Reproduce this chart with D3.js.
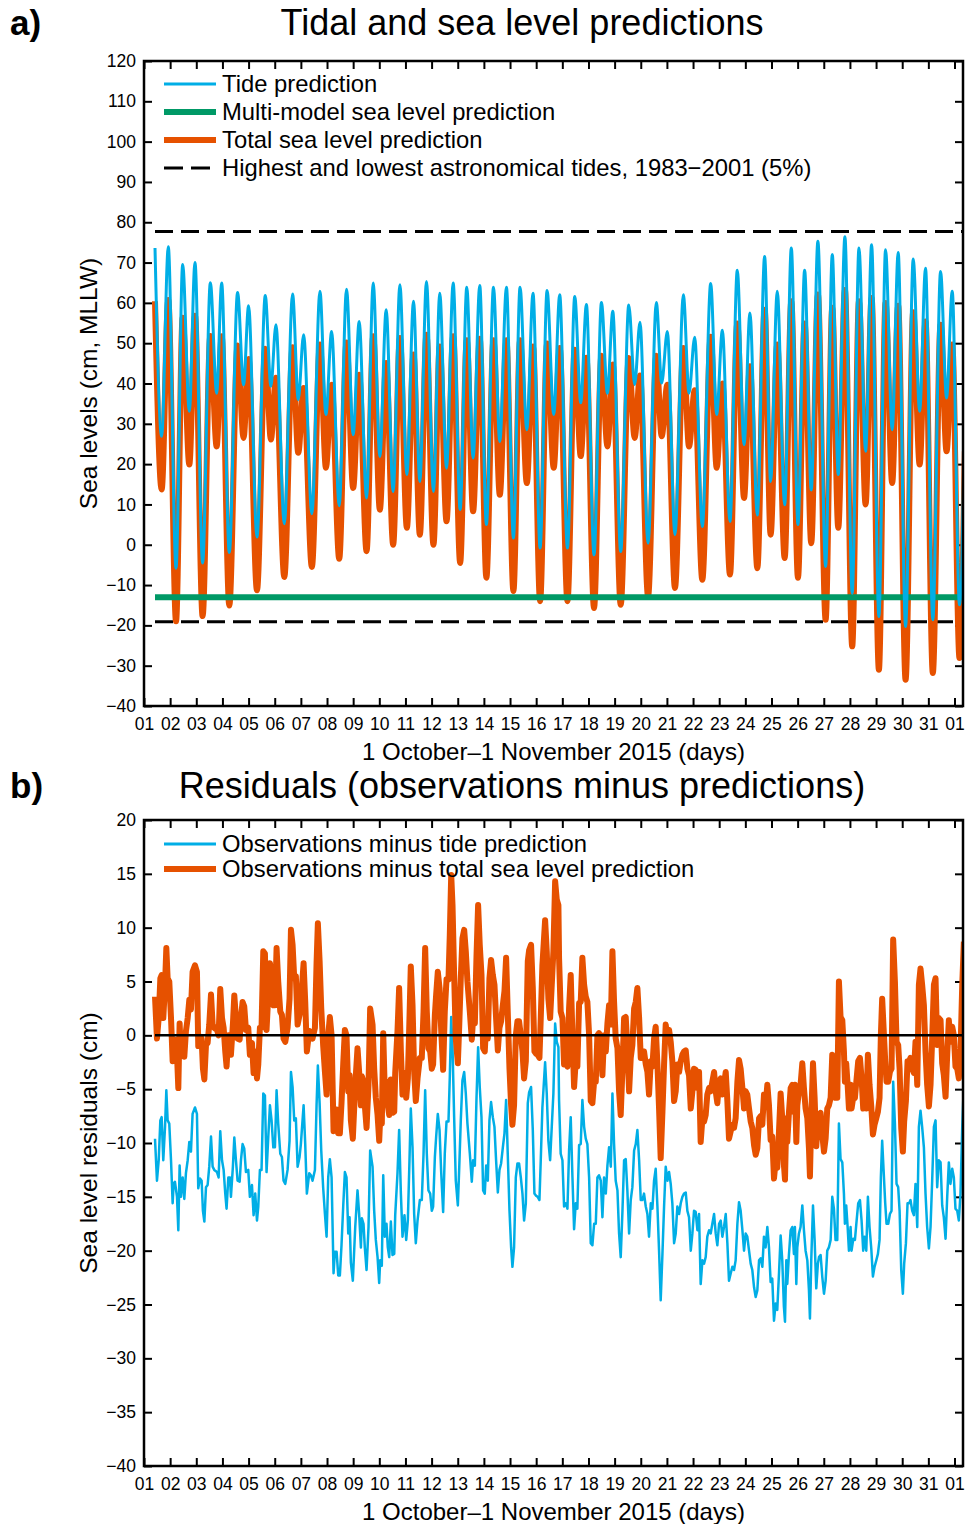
<!DOCTYPE html>
<html>
<head>
<meta charset="utf-8">
<title>Tidal and sea level predictions</title>
<script src="https://cdn.jsdelivr.net/npm/d3@7"></script>
<style>
  body { margin: 0; background: #fff; }
  svg { display: block; }
</style>
</head>
<body>
<svg id="chart" width="965" height="1524"></svg>
<script>
'use strict';

// hours since 1 October 2015 00:00, tidal turning points
var tideHours = [
  10.1, 16.2, 22.3, 29.4, 35.5, 41.6, 46.8, 53.8, 60.9, 66.7, 71.3, 78.3, 85.9, 91.4, 96.0,
  103.7, 111.3, 116.5, 121.1, 128.8, 136.4, 141.6, 146.5, 154.1, 161.5, 167.0, 172.2, 179.2, 185.9, 192.0,
  197.5, 204.3, 210.4, 216.5, 222.3, 228.7, 234.9, 241.3, 247.4, 253.2, 259.3, 265.7, 271.5, 277.7, 283.8,
  290.2, 296.3, 302.1, 308.2, 314.3, 320.8, 326.6, 332.7, 339.1, 345.2, 351.4, 357.1, 363.6, 370.0, 376.1, 381.6,
  388.7, 395.4, 400.9, 406.1, 413.1, 419.9, 425.4, 430.3, 437.6, 445.0, 450.4, 455.3, 462.7, 470.3, 475.2,
  480.4, 487.4, 495.1, 500.3, 505.5, 512.5, 520.2, 525.7, 530.9, 537.9, 544.6, 550.8, 556.2, 563.0, 569.7,
  575.2, 581.3, 588.1, 594.2, 600.3, 606.4, 612.5, 618.6, 625.7, 631.8, 637.3, 643.4, 650.1, 656.3, 662.4,
  667.9, 674.6, 680.7, 686.8, 692.3, 699.1, 706.1, 712.0, 717.4, 724.1, 731.2, 736.7, 741.9, 748.6, 753.5
];

// cm above MLLW
var tidePrediction = [
  73.6, 26.9, 73.9, -5.8, 69.5, 33.1, 70.0, -4.5, 65.0, 37.6, 64.9, -1.9, 62.6, 39.7, 59.3,
  1.9, 61.8, 39.3, 54.6, 5.2, 62.2, 36.0, 52.1, 7.7, 62.9, 32.3, 52.9, 9.7, 63.4, 27.3,
  55.4, 11.6, 64.9, 21.9, 58.3, 13.2, 64.5, 17.4, 60.4, 15.7, 65.3, 13.2, 62.4, 19.0, 64.9,
  8.7, 63.9, 21.5, 64.3, 5.0, 63.9, 25.6, 63.9, 1.7, 63.9, 28.5, 62.4, -0.8, 63.1, 32.3, 62.0,
  -0.8, 61.6, 35.2, 59.6, -2.5, 60.1, 37.6, 57.9, -1.7, 59.5, 39.7, 55.2, 0.4, 60.1, 40.1,
  52.9, 2.5, 62.0, 37.6, 51.5, 4.5, 64.8, 32.3, 53.2, 5.8, 68.1, 24.8, 57.5, 7.4, 71.5,
  15.7, 62.9, 9.9, 73.6, 5.0, 68.1, 13.6, 75.3, -5.4, 72.0, 17.4, 76.4, -12.0, 73.6, 23.2,
  74.4, -17.8, 73.2, 28.5, 72.5, -20.3, 70.9, 33.1, 68.6, -18.6, 67.8, 36.4, 62.9, -14.9, 36.4
];

var totalPrediction = [
  60.4, 13.7, 60.7, -19.0, 56.3, 19.9, 56.8, -17.7, 51.8, 24.4, 51.7, -15.1, 49.4, 26.5, 46.1,
  -11.3, 48.6, 26.1, 41.4, -8.0, 49.0, 22.8, 38.9, -5.5, 49.7, 19.1, 39.7, -3.5, 50.2, 14.1,
  42.2, -1.6, 51.7, 8.7, 45.1, 0.0, 51.3, 4.2, 47.2, 2.5, 52.1, 0.0, 49.2, 5.8, 51.7,
  -4.5, 50.7, 8.3, 51.1, -8.2, 50.7, 12.4, 50.7, -11.5, 50.7, 15.3, 49.2, -14.0, 49.9, 19.1, 48.8,
  -14.0, 48.4, 22.0, 46.4, -15.7, 46.9, 24.4, 44.7, -14.9, 46.3, 26.5, 42.0, -12.8, 46.9, 26.9,
  39.7, -10.7, 48.8, 24.4, 38.3, -8.7, 51.6, 19.1, 40.0, -7.4, 54.9, 11.6, 44.3, -5.8, 58.3,
  2.5, 49.7, -3.3, 60.4, -8.2, 54.9, 0.4, 62.1, -18.6, 58.8, 4.2, 63.2, -25.2, 60.4, 10.0,
  61.2, -31.0, 60.0, 15.3, 59.3, -33.5, 57.7, 19.9, 55.4, -31.8, 54.6, 23.2, 49.7, -28.1, 23.2
];

var multiModelLevel = -13.0;
var astronomicalTideLimits = [77.7, -19.1];

// hours since 1 October 2015 00:00, panel b
var residualHours = [
  10.1, 11.9, 13.5, 15.0, 16.2, 17.7, 19.3, 20.5, 21.7, 23.2,
  24.8, 26.3, 27.2, 28.4, 30.3, 31.5, 32.7, 33.9, 35.5, 37.0,
  38.5, 40.1, 41.6, 43.1, 44.6, 46.8, 48.6, 49.8, 51.4, 52.9,
  54.1, 55.4, 56.9, 58.4, 59.9, 61.5, 63.0, 64.5, 67.0, 68.5,
  70.0, 71.6, 73.1, 74.6, 75.8, 77.4, 78.9, 79.8, 81.6, 82.9,
  84.4, 85.9, 87.8, 89.0, 90.5, 92.0, 93.6, 95.7, 97.2, 99.1,
  100.6, 102.1, 103.7, 104.9, 106.4, 107.9, 109.5, 111.0, 112.5, 114.1,
  115.6, 117.1, 118.7, 120.2, 121.7, 123.2, 125.1, 126.6, 128.1, 129.7,
  131.8, 133.6, 134.9, 136.4, 137.9, 139.4, 141.0, 142.8, 144.0, 146.5,
  148.0, 149.5, 151.7, 153.2, 154.7, 156.9, 158.4, 159.6, 161.2, 162.7,
  164.5, 166.1, 167.6, 169.1, 170.6, 172.2, 174.0, 175.2, 176.8, 178.3,
  179.8, 181.3, 182.9, 184.4, 185.9, 187.5, 188.7, 189.9, 191.7,
  193.9, 196.0, 197.5, 199.1, 200.0, 201.5, 202.7, 204.3, 206.1, 207.6,
  209.8, 211.3, 212.8, 214.4, 215.9, 216.8, 218.3, 219.6, 221.1, 222.6,
  223.8, 225.1, 226.6, 228.1, 229.7, 230.6, 232.7, 234.2, 235.8, 237.3,
  239.1, 240.7, 242.2, 243.7, 244.9, 246.5, 248.0, 249.5, 251.1, 253.2,
  255.0, 256.6, 258.1, 259.6, 261.1, 262.7, 264.2, 265.4, 267.0, 268.2,
  269.7, 271.3, 272.8, 274.6, 276.1, 277.7, 279.5, 280.7, 282.0, 283.2,
  284.7, 286.2, 288.1, 289.3, 290.8, 292.3, 293.9, 295.4, 296.9, 299.1,
  300.9, 302.1, 303.7, 305.2, 306.7, 308.2, 309.8, 311.3, 312.8, 314.1,
  315.6, 317.1, 318.6, 320.2, 321.7, 323.2, 324.8, 326.3, 327.8, 329.4,
  330.9, 332.4, 333.9, 335.5, 337.0, 338.2, 339.7, 341.3, 342.8, 344.3,
  345.9, 347.4, 348.9, 350.5, 352.3, 353.5, 355.3, 356.9, 358.4, 359.9,
  361.4, 363.0, 364.2, 365.7, 368.2, 369.7, 371.2, 372.8, 374.3, 375.8,
  377.4, 378.9, 380.4,
  381.0, 382.5, 384.1, 385.6, 387.1, 388.7, 390.2, 391.7, 393.3, 394.8,
  396.3, 397.8, 399.4, 400.9, 402.4, 404.0, 405.5, 407.0, 408.6, 410.1,
  411.6, 413.2, 414.7, 416.2, 417.7, 419.3, 420.8, 422.3, 423.9, 425.4,
  426.9, 428.5, 430.0, 431.5, 433.0, 434.6, 436.1, 437.6, 439.2, 440.7,
  442.2, 443.7, 445.3, 446.8, 448.3, 449.9, 451.4, 452.9, 454.5, 456.0,
  457.5, 459.0, 460.6, 462.1, 463.6, 465.2, 466.7, 468.2, 469.7, 471.3,
  472.8, 474.3, 475.9, 477.4, 478.9, 480.5, 482.0, 483.5, 485.0, 486.6,
  488.1, 489.6, 491.2, 492.7, 494.2, 495.7, 497.3, 498.8, 500.3, 501.9,
  503.4, 504.9, 506.4, 508.0, 509.5, 511.0, 512.6, 514.1, 515.6, 517.1,
  518.7, 520.2, 521.7, 523.3, 524.8, 526.3, 527.9, 529.4, 530.9, 532.4,
  534.0, 535.5, 537.0, 538.6, 540.1, 541.6, 543.1, 544.7, 546.2, 547.7,
  549.3, 550.8, 552.3, 553.8, 555.4, 556.9, 558.4, 560.0, 561.5, 563.0,
  564.6, 566.1, 567.6, 569.1,
  570.6, 572.2, 573.7, 575.2, 576.7, 578.3, 579.8, 581.3, 582.9, 584.4,
  585.9, 587.4, 588.4, 589.6, 590.5, 592.0, 593.6, 595.1, 596.6, 597.5,
  598.8, 599.7, 601.2, 602.7, 604.3, 605.8, 607.3, 608.9, 610.4, 611.3,
  612.5, 614.1, 615.6, 617.1, 618.6, 619.6, 621.1, 622.6, 624.2, 625.7,
  627.2, 628.7, 630.3, 631.8, 633.3, 634.8, 636.4, 637.9, 639.4, 641.0,
  642.5, 643.4, 644.6, 645.9, 647.1, 648.6, 649.5, 651.1, 652.6, 653.8,
  655.6, 657.2, 658.7, 660.2, 661.4, 663.0, 664.5, 666.0, 667.6, 669.1,
  670.6, 672.2, 673.7, 675.2, 676.4, 677.6, 678.9, 680.4, 681.6, 683.2,
  684.7, 686.2, 687.7, 689.3, 690.8, 692.3, 693.6, 695.1, 696.6, 697.8,
  699.4, 700.9, 702.4, 703.6, 705.2, 706.7, 708.2, 709.8, 711.3, 712.8,
  714.3, 715.9, 717.4, 718.9, 720.5, 722.0, 723.5, 725.1, 726.6, 728.1,
  729.6, 731.2, 732.7, 734.2, 735.8, 737.3, 738.8, 740.3, 741.9, 743.4,
  744.9, 746.5, 748.0, 749.5, 751.1, 752.6
];

// observations minus tide prediction (cm)
var residualTide = [
  -9.6, -13.5, -11.6, -7.9, -7.6, -11.6, -8.5, -5.1, -7.9, -8.2,
  -11.6, -15.6, -13.8, -13.6, -15.0, -18.1, -12.1, -15.0, -13.2, -15.2,
  -12.8, -11.6, -9.9, -10.8, -7.3, -6.7, -7.3, -14.2, -13.3, -13.5,
  -16.3, -17.3, -14.1, -13.9, -12.2, -9.4, -12.2, -12.5, -12.7, -13.2,
  -8.9, -11.6, -12.5, -14.7, -16.1, -13.2, -13.2, -15.0, -12.2, -9.5,
  -11.6, -13.5, -13.6, -11.6, -10.1, -10.5, -12.7, -12.5, -15.0, -13.9,
  -16.7, -14.7, -17.2, -15.9, -12.5, -12.5, -5.4, -5.6, -12.7, -9.4,
  -6.5, -7.9, -10.4, -10.4, -5.1, -8.2, -11.0, -11.3, -13.5, -13.8,
  -12.5, -9.8, -3.4, -4.8, -7.9, -7.7, -12.2, -11.3, -10.1, -6.5,
  -10.1, -14.7, -12.8, -13.0, -13.5, -12.5, -6.5, -2.8, -6.3, -10.7,
  -14.2, -16.6, -18.7, -13.2, -11.5, -13.2, -22.1, -20.1, -20.1, -22.3,
  -22.3, -19.5, -15.8, -12.7, -13.2, -18.4, -16.9, -21.1, -22.8,
  -17.8, -14.4, -16.6, -19.7, -17.0, -17.5, -19.7, -21.8, -17.8, -10.7,
  -12.2, -16.3, -19.0, -20.6, -23.0, -20.9, -21.4, -13.0, -18.7, -17.5,
  -19.7, -20.6, -17.3, -20.4, -20.3, -16.7, -12.8, -8.8, -14.7, -18.7,
  -16.7, -19.0, -17.2, -11.6, -6.8, -10.4, -16.6, -19.3, -17.2, -15.3,
  -15.3, -11.0, -5.1, -11.0, -14.4, -14.7, -16.3, -15.9, -11.3, -9.4,
  -7.3, -8.8, -12.7, -16.4, -11.0, -8.0, -8.0, -3.9, 1.7, -1.1,
  -7.6, -13.5, -15.8, -12.5, -7.9, -4.2, -3.4, -5.4, -8.2, -11.0,
  -13.6, -11.6, -12.1, -5.9, -1.1, -4.8, -7.6, -14.4, -14.7, -12.1,
  -13.5, -7.9, -6.2, -7.6, -8.5, -11.6, -14.6, -12.5, -11.9, -10.4,
  -9.1, -6.0, -11.0, -16.3, -19.7, -21.5, -19.7, -13.2, -11.9, -11.9,
  -13.2, -14.7, -17.2, -15.6, -6.3, -5.3, -4.8, -8.8, -14.7, -14.9,
  -15.0, -15.3, -11.6, -6.7, -2.5, -5.4, -9.8, -11.6, -8.5, -5.4,
  1.1, -0.6, -1.1,
  -6.0, -11.0, -11.6, -15.9, -15.6, -16.1, -10.7, -7.6, -13.2, -18.0,
  -15.6, -16.1, -10.2, -10.1, -6.0, -8.5, -9.6, -10.1, -13.2, -19.3,
  -19.5, -17.5, -17.5, -13.2, -13.0, -13.5, -16.9, -13.2, -14.7, -12.1,
  -10.4, -12.2, -5.4, -10.1, -13.5, -14.4, -18.4, -20.6, -16.3, -11.6,
  -11.5, -14.4, -18.4, -15.3, -14.1, -10.7, -10.1, -8.8, -11.6, -15.3,
  -15.3, -14.7, -15.9, -16.6, -18.7, -15.6, -16.1, -13.5, -12.4, -15.9,
  -20.0, -24.6, -20.3, -15.9, -12.2, -13.5, -12.7, -13.8, -15.6, -19.3,
  -18.4, -15.9, -16.6, -15.6, -15.0, -14.7, -14.6, -16.3, -16.9, -20.0,
  -18.4, -16.3, -16.4, -18.1, -16.6, -23.1, -20.9, -21.2, -20.6, -18.7,
  -18.1, -18.4, -17.5, -16.6, -18.4, -19.5, -17.5, -17.2, -18.7, -17.8,
  -16.6, -19.3, -22.8, -22.1, -21.5, -21.8, -20.9, -17.5, -15.5, -16.3,
  -18.1, -20.0, -18.4, -18.7, -20.0, -21.2, -21.8, -23.4, -24.3, -23.7,
  -20.9, -20.7, -21.5, -18.7,
  -19.7, -17.8, -19.7, -22.9, -22.6, -26.5, -24.9, -25.5, -22.1, -18.6,
  -20.9, -25.2, -26.6, -20.9, -23.1, -20.4, -18.1, -17.8, -20.3, -17.8,
  -23.1, -19.7, -18.4, -17.8, -15.8, -18.1, -20.0, -20.9, -23.7, -26.3,
  -20.9, -15.8, -19.0, -23.5, -21.2, -20.6, -20.4, -22.4, -24.0, -22.8,
  -20.0, -19.7, -19.0, -15.0, -16.1, -19.0, -19.0, -8.2, -11.5, -11.8,
  -14.7, -17.5, -15.8, -17.8, -20.0, -17.8, -20.0, -18.9, -19.0, -17.6,
  -15.6, -15.3, -17.2, -20.0, -18.7, -20.0, -15.0, -17.8, -19.8, -22.4,
  -21.5, -20.9, -20.3, -19.0, -13.2, -9.8, -12.5, -15.6, -17.5, -17.5,
  -16.6, -16.3, -4.3, -8.2, -13.8, -14.1, -16.3, -21.8, -24.0, -21.2,
  -19.3, -15.6, -15.6, -15.3, -16.3, -16.7, -13.8, -17.8, -8.5, -7.0,
  -8.5, -10.4, -14.7, -17.8, -19.8, -17.8, -13.5, -8.5, -7.9, -14.1,
  -11.6, -11.8, -15.8, -16.9, -18.9, -15.0, -11.8, -13.8, -12.4, -13.2,
  -16.1, -16.3, -17.2, -14.7, -8.5, -4.5
];

// observations minus total sea level prediction (cm)
var residualTotal = [
  3.6, -0.3, 1.6, 5.3, 5.6, 1.6, 4.7, 8.1, 5.3, 5.0,
  1.6, -2.4, -0.6, -0.4, -1.8, -4.9, 1.1, -1.8, 0.0, -2.0,
  0.4, 1.6, 3.3, 2.4, 5.9, 6.5, 5.9, -1.0, -0.1, -0.3,
  -3.1, -4.1, -0.9, -0.7, 1.0, 3.8, 1.0, 0.7, 0.5, 0.0,
  4.3, 1.6, 0.7, -1.5, -2.9, 0.0, 0.0, -1.8, 1.0, 3.7,
  1.6, -0.3, -0.4, 1.6, 3.1, 2.7, 0.5, 0.7, -1.8, -0.7,
  -3.5, -1.5, -4.0, -2.7, 0.7, 0.7, 7.8, 7.6, 0.5, 3.8,
  6.7, 5.3, 2.8, 2.8, 8.1, 5.0, 2.2, 1.9, -0.3, -0.6,
  0.7, 3.4, 9.8, 8.4, 5.3, 5.5, 1.0, 1.9, 3.1, 6.7,
  3.1, -1.5, 0.4, 0.2, -0.3, 0.7, 6.7, 10.4, 6.9, 2.5,
  -1.0, -3.4, -5.5, 0.0, 1.7, 0.0, -8.9, -6.9, -6.9, -9.1,
  -9.1, -6.3, -2.6, 0.5, 0.0, -5.2, -3.7, -7.9, -9.6,
  -4.6, -1.2, -3.4, -6.5, -3.8, -4.3, -6.5, -8.6, -4.6, 2.5,
  1.0, -3.1, -5.8, -7.4, -9.8, -7.7, -8.2, 0.2, -5.5, -4.3,
  -6.5, -7.4, -4.1, -7.2, -7.1, -3.5, 0.4, 4.4, -1.5, -5.5,
  -3.5, -5.8, -4.0, 1.6, 6.4, 2.8, -3.4, -6.1, -4.0, -2.1,
  -2.1, 2.2, 8.1, 2.2, -1.2, -1.5, -3.1, -2.7, 1.9, 3.8,
  5.9, 4.4, 0.5, -3.2, 2.2, 5.2, 5.2, 9.3, 14.9, 12.1,
  5.6, -0.3, -2.6, 0.7, 5.3, 9.0, 9.8, 7.8, 5.0, 2.2,
  -0.4, 1.6, 1.1, 7.3, 12.1, 8.4, 5.6, -1.2, -1.5, 1.1,
  -0.3, 5.3, 7.0, 5.6, 4.7, 1.6, -1.4, 0.7, 1.3, 2.8,
  4.1, 7.2, 2.2, -3.1, -6.5, -8.3, -6.5, 0.0, 1.3, 1.3,
  0.0, -1.5, -4.0, -2.4, 6.9, 7.9, 8.4, 4.4, -1.5, -1.7,
  -1.8, -2.1, 1.6, 6.5, 10.7, 7.8, 3.4, 1.6, 4.7, 7.8,
  14.3, 12.6, 12.1,
  7.2, 2.2, 1.6, -2.7, -2.4, -2.9, 2.5, 5.6, 0.0, -4.8,
  -2.4, -2.9, 3.0, 3.1, 7.2, 4.7, 3.6, 3.1, 0.0, -6.1,
  -6.3, -4.3, -4.3, 0.0, 0.2, -0.3, -3.7, 0.0, -1.5, 1.1,
  2.8, 1.0, 7.8, 3.1, -0.3, -1.2, -5.2, -7.4, -3.1, 1.6,
  1.7, -1.2, -5.2, -2.1, -0.9, 2.5, 3.1, 4.4, 1.6, -2.1,
  -2.1, -1.5, -2.7, -3.4, -5.5, -2.4, -2.9, -0.3, 0.8, -2.7,
  -6.8, -11.4, -7.1, -2.7, 1.0, -0.3, 0.5, -0.6, -2.4, -6.1,
  -5.2, -2.7, -3.4, -2.4, -1.8, -1.5, -1.4, -3.1, -3.7, -6.8,
  -5.2, -3.1, -3.2, -4.9, -3.4, -9.9, -7.7, -8.0, -7.4, -5.5,
  -4.9, -5.2, -4.3, -3.4, -5.2, -6.3, -4.3, -4.0, -5.5, -4.6,
  -3.4, -6.1, -9.6, -8.9, -8.3, -8.6, -7.7, -4.3, -2.3, -3.1,
  -4.9, -6.8, -5.2, -5.5, -6.8, -8.0, -8.6, -10.2, -11.1, -10.5,
  -7.7, -7.5, -8.3, -5.5,
  -6.5, -4.6, -6.5, -9.7, -9.4, -13.3, -11.7, -12.3, -8.9, -5.4,
  -7.7, -12.0, -13.4, -7.7, -9.9, -7.2, -4.9, -4.6, -7.1, -4.6,
  -9.9, -6.5, -5.2, -4.6, -2.6, -4.9, -6.8, -7.7, -10.5, -13.1,
  -7.7, -2.6, -5.8, -10.3, -8.0, -7.4, -7.2, -9.2, -10.8, -9.6,
  -6.8, -6.5, -5.8, -1.8, -2.9, -5.8, -5.8, 5.0, 1.7, 1.4,
  -1.5, -4.3, -2.6, -4.6, -6.8, -4.6, -6.8, -5.7, -5.8, -4.4,
  -2.4, -2.1, -4.0, -6.8, -5.5, -6.8, -1.8, -4.6, -6.6, -9.2,
  -8.3, -7.7, -7.1, -5.8, 0.0, 3.4, 0.7, -2.4, -4.3, -4.3,
  -3.4, -3.1, 8.9, 5.0, -0.6, -0.9, -3.1, -8.6, -10.8, -8.0,
  -6.1, -2.4, -2.4, -2.1, -3.1, -3.5, -0.6, -4.6, 4.7, 6.2,
  4.7, 2.8, -1.5, -4.6, -6.6, -4.6, -0.3, 4.7, 5.3, -0.9,
  1.6, 1.4, -2.6, -3.7, -5.7, -1.8, 1.4, -0.6, 0.8, 0.0,
  -2.9, -3.1, -4.0, -1.5, 4.7, 8.7
];

var seaLevelTicks = d3.range(-40, 121, 10);
var residualTicks = d3.range(-40, 21, 5);
var endHour = 751.8;


var FONT = '"Liberation Sans", Arial, Helvetica, sans-serif';
var BLUE = '#00aee6';
var ORANGE = '#e65100';
var GREEN = '#009966';

var svg = d3.select('#chart').style('font-family', FONT);
var left = 144;
var right = 963;
var t0 = Date.UTC(2015, 9, 1);

function toDate(h)
{
  return new Date(t0 + h * 36e5);
}

var x = d3.scaleUtc().domain([toDate(0), toDate(endHour)]).range([left, right]);

function drawFrame(opts)
{
  var y = d3.scaleLinear().domain(opts.domain).range([opts.bottom, opts.top]);
  var g = svg.append('g');

  g.append('clipPath')
    .attr('id', opts.clipId)
    .append('rect')
    .attr('x', left)
    .attr('y', opts.top)
    .attr('width', right - left)
    .attr('height', opts.bottom - opts.top);

  var axes = [
    {axis: d3.axisBottom(x).ticks(d3.utcDay.every(1)).tickFormat(d3.utcFormat('%d')), tr: [0, opts.bottom], pad: 12},
    {axis: d3.axisTop(x).ticks(d3.utcDay.every(1)).tickFormat(''), tr: [0, opts.top], pad: 0},
    {axis: d3.axisLeft(y).tickValues(opts.ticks).tickFormat(d3.format('d')), tr: [left, 0], pad: 8},
    {axis: d3.axisRight(y).tickValues(opts.ticks).tickFormat(''), tr: [right, 0], pad: 0}
  ];

  axes.forEach(function(a)
  {
    var ag = g.append('g')
      .attr('transform', 'translate(' + a.tr[0] + ',' + a.tr[1] + ')')
      .call(a.axis.tickSize(-8).tickSizeOuter(0).tickPadding(a.pad));

    ag.attr('font-size', 17.5).attr('font-family', FONT);
    ag.select('.domain').remove();
    ag.selectAll('.tick line').attr('stroke', '#000').attr('stroke-width', 2);
    ag.selectAll('.tick text').attr('fill', '#000');
  });

  var plot = g.append('g').attr('clip-path', 'url(#' + opts.clipId + ')');

  g.append('text')
    .attr('x', 10)
    .attr('y', opts.titleY)
    .attr('font-size', 35)
    .attr('font-weight', 'bold')
    .text(opts.letter);

  g.append('text')
    .attr('x', 522)
    .attr('y', opts.titleY)
    .attr('font-size', 36)
    .attr('text-anchor', 'middle')
    .text(opts.title);

  g.append('text')
    .attr('x', (left + right) / 2)
    .attr('y', opts.bottom + 53.5)
    .attr('font-size', 24)
    .attr('text-anchor', 'middle')
    .text('1 October\u20131 November 2015 (days)');

  g.append('text')
    .attr('transform', 'translate(97,' + (opts.top + opts.bottom) / 2 + ') rotate(-90)')
    .attr('font-size', 24.5)
    .attr('text-anchor', 'middle')
    .text(opts.yLabel);

  return {g: g, y: y, plot: plot};
}

function drawLegend(g, items, y0, step)
{
  items.forEach(function(it, i)
  {
    var yy = y0 + i * step;

    g.append('line')
      .attr('x1', 164)
      .attr('x2', it.dash ? 210 : 216)
      .attr('y1', yy)
      .attr('y2', yy)
      .attr('stroke', it.color)
      .attr('stroke-width', it.width)
      .attr('stroke-dasharray', it.dash || null);

    g.append('text')
      .attr('x', 222)
      .attr('y', yy)
      .attr('dy', '0.33em')
      .attr('font-size', 23.8)
      .text(it.label);
  });
}

// ---- panel a
var a = drawFrame({
  top: 61, bottom: 706, domain: [-40, 120], ticks: seaLevelTicks, clipId: 'clipA',
  titleY: 35, letter: 'a)', title: 'Tidal and sea level predictions',
  yLabel: 'Sea levels (cm, MLLW)'
});

var tideLine = d3.line()
  .x(function(d) { return x(toDate(d[0])); })
  .y(function(d) { return a.y(d[1]); })
  .curve(d3.curveMonotoneX);

var flatLineA = d3.line()
  .x(function(d) { return x(toDate(d[0])); })
  .y(function(d) { return a.y(d[1]); });

astronomicalTideLimits.forEach(function(v)
{
  a.plot.append('path')
    .datum([[tideHours[0], v], [endHour, v]])
    .attr('d', flatLineA)
    .attr('fill', 'none')
    .attr('stroke', '#000')
    .attr('stroke-width', 3)
    .attr('stroke-dasharray', '18,8');
});

a.plot.append('path')
  .datum(d3.zip(tideHours, totalPrediction))
  .attr('d', tideLine)
  .attr('fill', 'none')
  .attr('stroke', ORANGE)
  .attr('stroke-width', 6)
  .attr('stroke-linejoin', 'round');

a.plot.append('path')
  .datum([[tideHours[0], multiModelLevel], [endHour, multiModelLevel]])
  .attr('d', flatLineA)
  .attr('fill', 'none')
  .attr('stroke', GREEN)
  .attr('stroke-width', 6);

a.plot.append('path')
  .datum(d3.zip(tideHours, tidePrediction))
  .attr('d', tideLine)
  .attr('fill', 'none')
  .attr('stroke', BLUE)
  .attr('stroke-width', 3);

drawLegend(a.g, [
  {label: 'Tide prediction', color: BLUE, width: 3},
  {label: 'Multi-model sea level prediction', color: GREEN, width: 6},
  {label: 'Total sea level prediction', color: ORANGE, width: 6},
  {label: 'Highest and lowest astronomical tides, 1983\u22122001 (5%)', color: '#000', width: 3, dash: '19,8'}
], 84, 28);

// ---- panel b
var b = drawFrame({
  top: 820, bottom: 1466, domain: [-40, 20], ticks: residualTicks, clipId: 'clipB',
  titleY: 798, letter: 'b)', title: 'Residuals (observations minus predictions)',
  yLabel: 'Sea level residuals (cm)'
});

var residLine = d3.line()
  .x(function(d) { return x(toDate(d[0])); })
  .y(function(d) { return b.y(d[1]); });

b.plot.append('path')
  .datum(d3.zip(residualHours, residualTide))
  .attr('d', residLine)
  .attr('fill', 'none')
  .attr('stroke', BLUE)
  .attr('stroke-width', 2.5)
  .attr('stroke-linejoin', 'round');

b.plot.append('path')
  .datum(d3.zip(residualHours, residualTotal))
  .attr('d', residLine)
  .attr('fill', 'none')
  .attr('stroke', ORANGE)
  .attr('stroke-width', 6)
  .attr('stroke-linejoin', 'round');

b.plot.append('path')
  .datum([[residualHours[0], 0], [endHour, 0]])
  .attr('d', residLine)
  .attr('fill', 'none')
  .attr('stroke', '#000')
  .attr('stroke-width', 2.5);

drawLegend(b.g, [
  {label: 'Observations minus tide prediction', color: BLUE, width: 3},
  {label: 'Observations minus total sea level prediction', color: ORANGE, width: 6}
], 844, 25);

// frames on top
[a, b].forEach(function(p)
{
  var r = p.y.range();

  p.g.append('rect')
    .attr('x', left)
    .attr('y', r[1])
    .attr('width', right - left)
    .attr('height', r[0] - r[1])
    .attr('fill', 'none')
    .attr('stroke', '#000')
    .attr('stroke-width', 2.5);
});
</script>
</body>
</html>
